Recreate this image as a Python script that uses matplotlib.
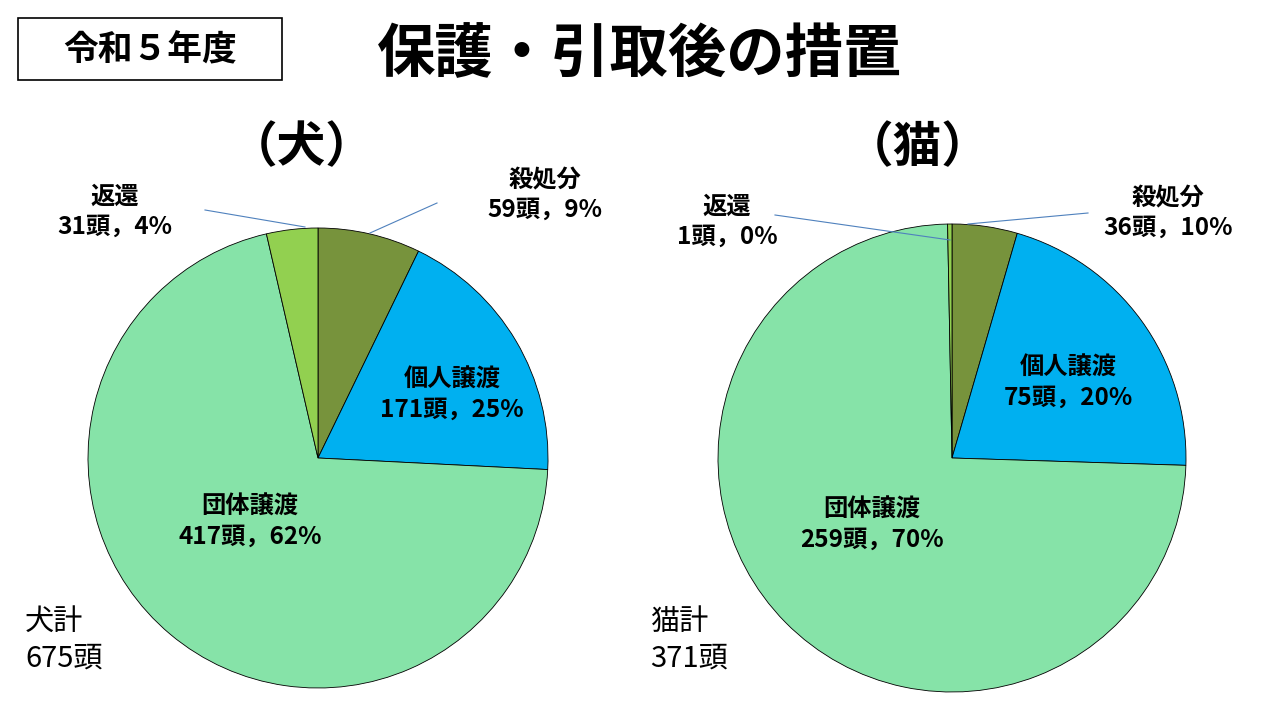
import matplotlib
matplotlib.use("Agg")
import matplotlib.pyplot as plt
from matplotlib.patches import Rectangle

plt.rcParams["font.family"] = "Noto Sans CJK JP"

categories = ["殺処分", "個人譲渡", "団体譲渡", "返還"]
dog_values = [59, 171, 417, 31]
dog_pct = ["9%", "25%", "62%", "4%"]
cat_values = [36, 75, 259, 1]
cat_pct = ["10%", "20%", "70%", "0%"]
# slice sizes as drawn in the picture (they differ from the printed labels)
dog_slices = [7.2, 18.6, 70.6, 3.6]
cat_slices = [4.5, 21.0, 74.2, 0.3]
colors = ["#77933C", "#00B0F0", "#86E3A8", "#92D050"]

W, H = 1280, 720
fig = plt.figure(figsize=(12.8, 7.2), dpi=100)
fig.patch.set_facecolor("white")

def px(x, y):
    return x / W, 1 - y / H

def pie_at(cx, cy, r, values):
    ax = fig.add_axes([(cx - r) / W, 1 - (cy + r) / H, 2 * r / W, 2 * r / H])
    ax.pie(values, colors=colors, startangle=90, counterclock=False,
           wedgeprops=dict(edgecolor="black", linewidth=0.6))
    ax.set_xlim(-1, 1)
    ax.set_ylim(-1, 1)
    ax.axis("off")
    return ax

pie_at(318, 458, 230, dog_slices)
pie_at(952, 458, 234, cat_slices)

# title area
fig.patches.append(Rectangle(px(18, 80), 264 / W, 62 / H, transform=fig.transFigure,
                             fill=False, edgecolor="black", linewidth=1.2))
fig.text(*px(150, 50), "令和５年度", ha="center", va="center", fontsize=25, fontweight="bold")
fig.text(*px(640, 55), "保護・引取後の措置", ha="center", va="center", fontsize=42, fontweight="bold")
fig.text(*px(302, 148), "（犬）", ha="center", va="center", fontsize=35, fontweight="bold")
fig.text(*px(918, 148), "（猫）", ha="center", va="center", fontsize=35, fontweight="bold")

def label(x, y, name, n, pct):
    fig.text(*px(x, y), f"{name}\n{n}頭，{pct}", ha="center", va="center",
             fontsize=17.5, fontweight="bold", linespacing=1.3)

label(545, 195, categories[0], dog_values[0], dog_pct[0])
label(452, 395, categories[1], dog_values[1], dog_pct[1])
label(250, 522, categories[2], dog_values[2], dog_pct[2])
label(115, 212, categories[3], dog_values[3], dog_pct[3])
label(1168, 213, categories[0], cat_values[0], cat_pct[0])
label(1068, 383, categories[1], cat_values[1], cat_pct[1])
label(872, 525, categories[2], cat_values[2], cat_pct[2])
label(727, 222, categories[3], cat_values[3], cat_pct[3])

lines = [((437, 203), (370, 233)), ((205, 210), (305, 227)),
         ((1088, 213), (968, 224)), ((775, 215), (950, 240))]
for (x0, y0), (x1, y1) in lines:
    fig.add_artist(plt.Line2D([x0 / W, x1 / W], [1 - y0 / H, 1 - y1 / H],
                              color="#4F81BD", linewidth=0.8))

fig.text(*px(25, 640), "犬計\n675頭", ha="left", va="center", fontsize=21, linespacing=1.3)
fig.text(*px(650, 640), "猫計\n371頭", ha="left", va="center", fontsize=21, linespacing=1.3)

fig.savefig("out.png", dpi=100)
